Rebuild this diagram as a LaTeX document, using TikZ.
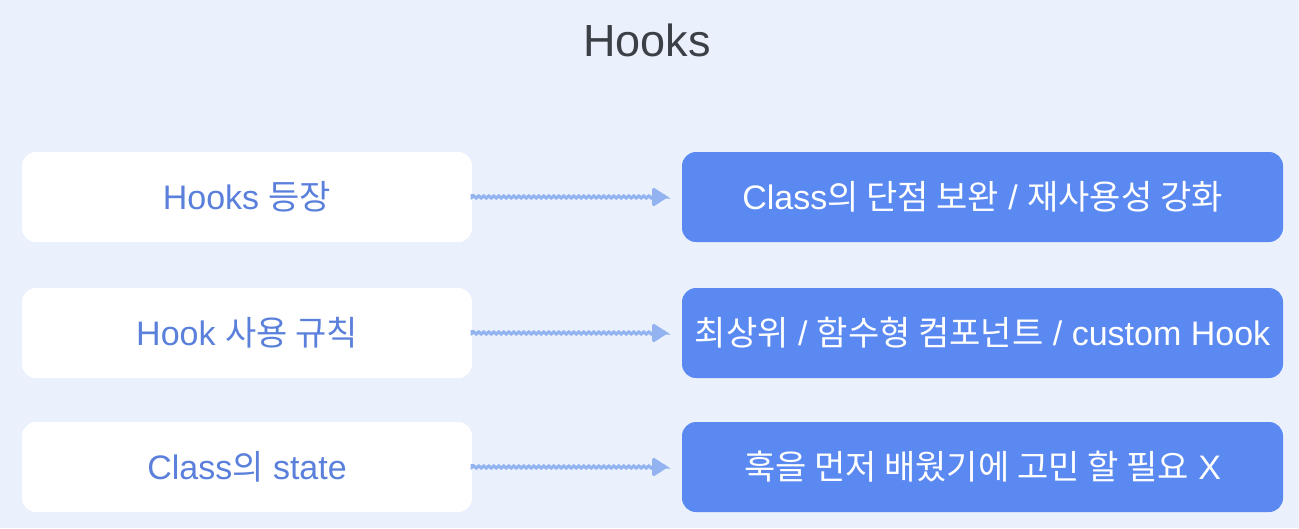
\documentclass[tikz,border=0pt]{standalone}
\usepackage{fontspec}
\setmainfont{Liberation Sans}
\newfontfamily\kr{Noto Sans CJK KR}
\usetikzlibrary{decorations.pathmorphing,arrows.meta}
\definecolor{bg}{HTML}{EAF1FC}
\definecolor{ltxt}{HTML}{5A80DC}
\definecolor{rbox}{HTML}{5A89F2}
\definecolor{arr}{HTML}{93B3F0}
\definecolor{ttl}{HTML}{3B4047}
\tikzset{
  lbox/.style={rectangle, rounded corners=14pt, fill=white, minimum width=450pt, minimum height=90pt, inner sep=0pt, text=ltxt, font=\fontsize{34}{40}\selectfont},
  rbx/.style={rectangle, rounded corners=14pt, fill=rbox, minimum width=601pt, minimum height=90pt, inner sep=0pt, text=white, font=\fontsize{34}{40}\selectfont},
  wavy/.style={arr, line width=3.2pt, decorate, decoration={snake, amplitude=1pt, segment length=5pt, post length=16pt}, -{Triangle[length=16pt,width=20pt,round]}, shorten >=15pt, shorten <=3pt}
}
\begin{document}
\begin{tikzpicture}[x=1pt,y=-1pt]
\fill[bg] (0,0) rectangle (1299,528);
\useasboundingbox (0,0) rectangle (1299,528);
\node[text=ttl, font=\fontsize{45}{52}\selectfont] (title) at (647,40) {Hooks};
\node[lbox] (l1) at (247,197) {Hooks {\kr 등장}};
\node[lbox] (l2) at (247,333) {Hook {\kr 사용 규칙}};
\node[lbox] (l3) at (247,467) {Class{\kr 의} state};
\node[rbx] (r1) at (982.5,197) {Class{\kr 의 단점 보완} / {\kr 재사용성 강화}};
\node[rbx] (r2) at (982.5,333) {{\kr 최상위} / {\kr 함수형 컴포넌트} / custom Hook};
\node[rbx] (r3) at (982.5,467) {{\kr 훅을 먼저 배웠기에 고민 할 필요} X};
\draw[wavy] (l1.east) -- (r1.west);
\draw[wavy] (l2.east) -- (r2.west);
\draw[wavy] (l3.east) -- (r3.west);
\end{tikzpicture}
\end{document}
